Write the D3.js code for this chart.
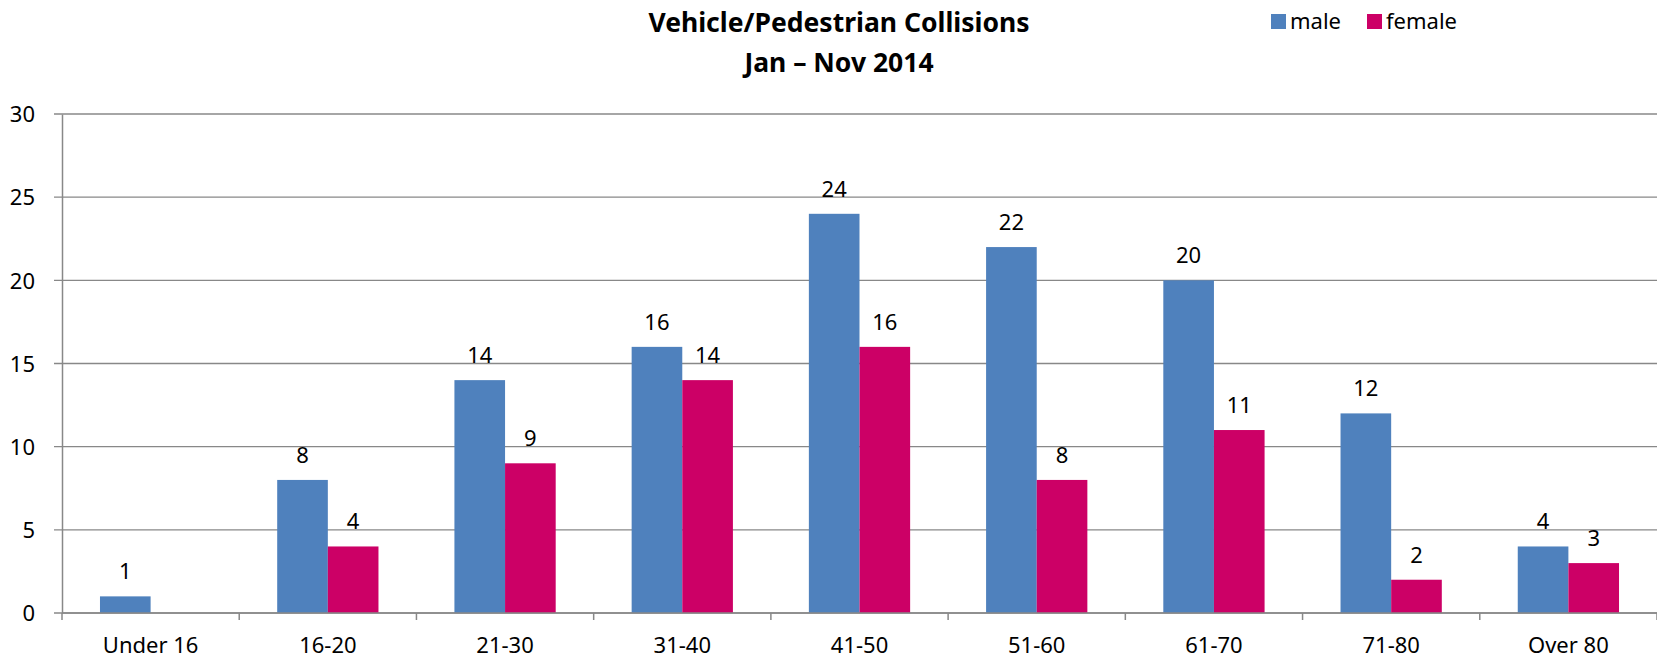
<!DOCTYPE html>
<html><head><meta charset="utf-8">
<script src="https://cdn.jsdelivr.net/npm/d3@7"></script>
<style>
html,body{margin:0;padding:0;background:#fff;}
svg{display:block;font-family:"Noto Sans",sans-serif;}
</style></head>
<body>
<svg id="chart" width="1657" height="658"></svg>
<script>
const categories = ["Under 16","16-20","21-30","31-40","41-50","51-60","61-70","71-80","Over 80"];
const maleValues = [1,8,14,16,24,22,20,12,4];
const femaleValues = [null,4,9,14,16,8,11,2,3];
const seriesNames = ["male","female"];
const yTicks = [0,5,10,15,20,25,30];
const titleLines = ["Vehicle/Pedestrian Collisions","Jan \u2013 Nov 2014"];

const colors = {male:"#4F81BD", female:"#CC0066"};
const svg = d3.select("#chart");
const W = 1657, H = 658;
const m = {left:62, right:0, top:114, bottom:45};

const x = d3.scaleBand().domain(categories).range([m.left, W - m.right]).paddingInner(0).paddingOuter(0);
const y = d3.scaleLinear().domain([0,30]).range([H - m.bottom, m.top]);
const bw = x.bandwidth() * 100 / 350;
const inner = d3.scaleBand().domain(seriesNames).range([0, 2*bw]);

const data = categories.map((c,i)=>({cat:c, male:maleValues[i], female:femaleValues[i]}));

// gridlines
svg.append("g").selectAll("line").data(yTicks).join("line")
  .attr("x1", m.left - 8).attr("x2", W - m.right)
  .attr("y1", d=>y(d)).attr("y2", d=>y(d))
  .attr("stroke","#888888").attr("stroke-width",1.3);

// y axis
const yAxis = d3.axisLeft(y).tickValues(yTicks).tickSize(0).tickPadding(27);
const gy = svg.append("g").attr("transform",`translate(${m.left},0)`).call(yAxis);
gy.select(".domain").attr("stroke","#888888").attr("stroke-width",1.5);
gy.selectAll("text").attr("font-size",22).attr("fill","#000").attr("font-family","Noto Sans").attr("dy","0.35em");

// x axis
const xAxis = d3.axisBottom(x).tickSize(0).tickPadding(20);
const gx = svg.append("g").attr("transform",`translate(0,${y(0)})`).call(xAxis);
gx.select(".domain").remove();
gx.selectAll("text").attr("font-size",22).attr("fill","#000").attr("font-family","Noto Sans").attr("dy","0.9em");
// category boundary ticks
const bounds = categories.map(c=>x(c)).concat([x(categories[categories.length-1]) + x.bandwidth()]);
gx.append("g").selectAll("line").data(bounds).join("line")
  .attr("x1",d=>d).attr("x2",d=>d).attr("y1",0).attr("y2",7)
  .attr("stroke","#888888").attr("stroke-width",1.5);

// bars
const groups = svg.append("g").selectAll("g").data(data).join("g")
  .attr("transform", d=>`translate(${x(d.cat) + (x.bandwidth()-2*bw)/2},0)`);
seriesNames.forEach(s=>{
  groups.filter(d=>d[s]!=null).append("rect")
    .attr("x", inner(s)).attr("width", inner.bandwidth())
    .attr("y", d=>y(d[s])).attr("height", d=>y(0)-y(d[s]))
    .attr("fill", colors[s]);
  groups.filter(d=>d[s]!=null).append("text")
    .attr("x", inner(s) + inner.bandwidth()/2)
    .attr("y", d=>y(d[s]) - 17)
    .attr("text-anchor","middle").attr("font-size",22).attr("fill","#000")
    .text(d=>d[s]);
});
// axis line over bars
svg.append("line").attr("x1",m.left).attr("x2",W-m.right).attr("y1",y(0)).attr("y2",y(0))
  .attr("stroke","#888888").attr("stroke-width",1.5);

// title
svg.append("g").selectAll("text").data(titleLines).join("text")
  .attr("x",839).attr("y",(d,i)=>32 + i*40)
  .attr("text-anchor","middle").attr("font-weight","bold").attr("font-size",26.5)
  .attr("fill","#000").text(d=>d);

// legend
const legX = [1271, 1367];
const leg = svg.append("g").selectAll("g").data(seriesNames).join("g")
  .attr("transform",(d,i)=>`translate(${legX[i]},14)`);
leg.append("rect").attr("width",15).attr("height",15).attr("fill",d=>colors[d]);
leg.append("text").attr("x",19).attr("y",15).attr("font-size",22).attr("fill","#000").text(d=>d);
</script>
</body></html>
